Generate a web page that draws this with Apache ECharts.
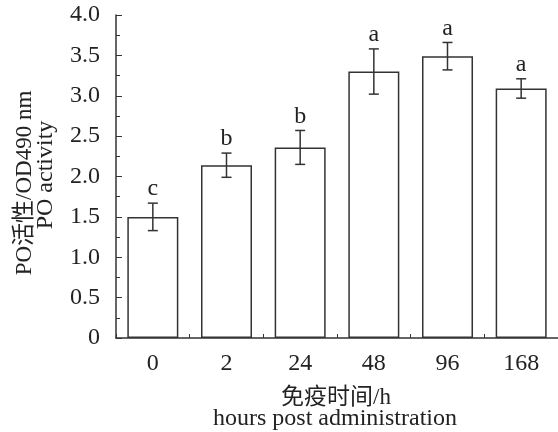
<!DOCTYPE html>
<html><head><meta charset="utf-8">
<script src="https://cdn.jsdelivr.net/npm/echarts@6/dist/echarts.min.js"></script>
<style>html,body{margin:0;padding:0;background:#fff}#c{width:558px;height:432px}</style>
</head><body><div id="c"></div>
<script>
const categories = ['0', '2', '24', '48', '96', '168'];
const means = [1.50, 2.14, 2.36, 3.30, 3.49, 3.09];
const errors = [0.17, 0.15, 0.21, 0.28, 0.17, 0.12];
const letters = ['c', 'b', 'b', 'a', 'a', 'a'];
const yTicks = [0, 0.5, 1.0, 1.5, 2.0, 2.5, 3.0, 3.5, 4.0];

const FONT = "'Liberation Serif', 'Noto Sans CJK SC', serif";
const INK = '#333';
const TXT = '#222';

const chart = echarts.init(document.getElementById('c'), null, {renderer: 'canvas'});
const errData = categories.map((c, i) => [i, means[i], errors[i]]);

chart.setOption({
  animation: false,
  backgroundColor: '#fff',
  textStyle: {fontFamily: FONT},
  grid: {left: 116, top: 15, bottom: 94, right: -1, containLabel: false},
  xAxis: {
    type: 'category', data: categories,
    axisLine: {lineStyle: {color: INK, width: 1.5}},
    axisTick: {show: true, inside: true, length: 4, lineStyle: {color: INK}},
    axisLabel: {color: TXT, fontSize: 24, fontFamily: FONT, margin: 14}
  },
  yAxis: {
    type: 'value', min: yTicks[0], max: yTicks[yTicks.length - 1], interval: 0.5,
    splitLine: {show: false},
    axisLine: {show: true, lineStyle: {color: INK, width: 1.5}},
    axisTick: {show: true, inside: true, length: 6, lineStyle: {color: INK}},
    minorTick: {show: true, splitNumber: 2, length: 4, lineStyle: {color: INK}},
    axisLabel: {color: TXT, fontSize: 24, fontFamily: FONT, margin: 16,
      formatter: v => v === 0 ? '0' : v.toFixed(1)}
  },
  graphic: [
    {type: 'text', x: 25, y: 183, rotation: Math.PI / 2,
      style: {text: 'PO活性/OD490 nm', fill: TXT, font: "23px " + FONT, align: 'center', verticalAlign: 'middle'}},
    {type: 'text', x: 46, y: 175, rotation: Math.PI / 2,
      style: {text: 'PO activity', fill: TXT, font: "24px " + FONT, align: 'center', verticalAlign: 'middle'}},
    {type: 'text', x: 336, y: 398,
      style: {text: '免疫时间/h', fill: TXT, font: "23px " + FONT, align: 'center', verticalAlign: 'middle'}},
    {type: 'text', x: 335, y: 419,
      style: {text: 'hours post administration', fill: TXT, font: "24px " + FONT, align: 'center', verticalAlign: 'middle'}}
  ],
  series: [
    {
      type: 'bar', data: means, barWidth: 51,
      itemStyle: {color: '#fff', borderColor: INK, borderWidth: 1.5}
    },
    {
      type: 'custom', data: errData, z: 5,
      renderItem: function (params, api) {
        const x = api.value(0), m = api.value(1), e = api.value(2);
        const top = api.coord([x, m + e]);
        const bot = api.coord([x, m - e]);
        const hw = 5;
        const st = {stroke: INK, lineWidth: 1.5};
        return {
          type: 'group',
          children: [
            {type: 'line', shape: {x1: top[0], y1: top[1], x2: bot[0], y2: bot[1]}, style: st},
            {type: 'line', shape: {x1: top[0] - hw, y1: top[1], x2: top[0] + hw, y2: top[1]}, style: st},
            {type: 'line', shape: {x1: bot[0] - hw, y1: bot[1], x2: bot[0] + hw, y2: bot[1]}, style: st},
            {type: 'text', x: top[0], y: top[1] - 14,
              style: {text: letters[params.dataIndex], fill: TXT, font: "24px " + FONT, align: 'center', verticalAlign: 'middle'}}
          ]
        };
      }
    }
  ]
});
</script></body></html>
